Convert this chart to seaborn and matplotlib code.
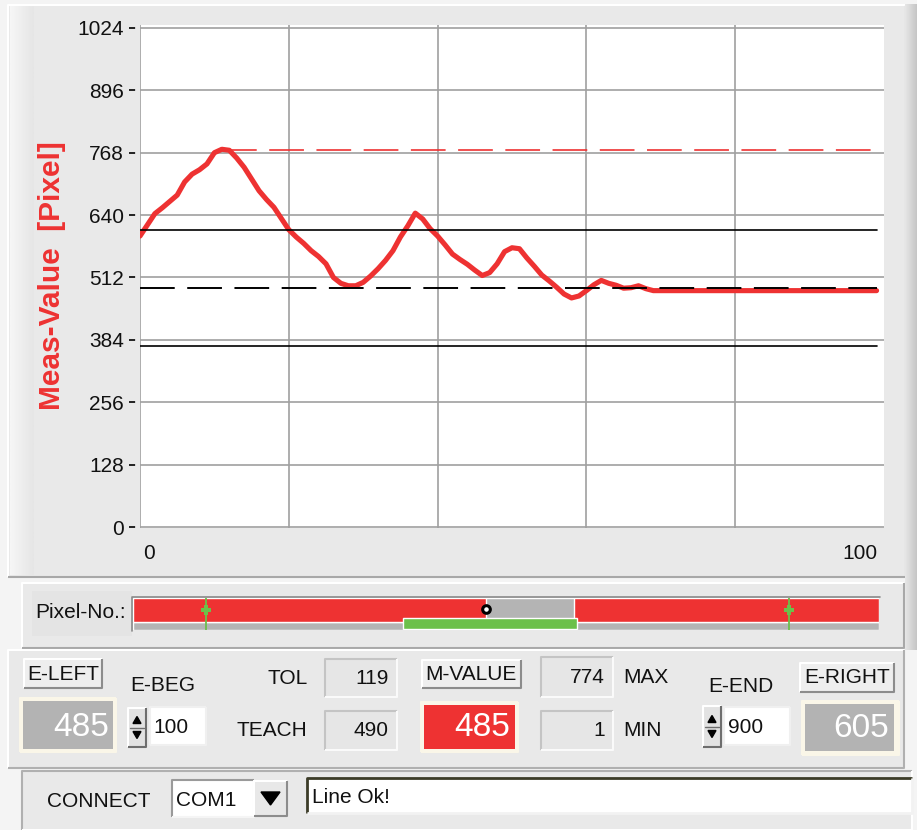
import numpy as np
import matplotlib
matplotlib.use("Agg")
import matplotlib.pyplot as plt
import seaborn as sns
from matplotlib import font_manager
from matplotlib.patches import Rectangle, Polygon
from matplotlib.colors import LinearSegmentedColormap

pixel_no = [0, 1, 2, 3, 4, 5, 6, 7, 8, 9, 10, 11, 12, 13, 14, 15, 16, 17, 18, 19,
            20, 21, 22, 23, 24, 25, 26, 27, 28, 29, 30, 31, 32, 33, 34, 35, 36, 37, 38, 39,
            40, 41, 42, 43, 44, 45, 46, 47, 48, 49, 50, 51, 52, 53, 54, 55, 56, 57, 58, 59,
            60, 61, 62, 63, 64, 65, 66, 67, 68, 69, 99]
meas_value = [597, 620, 643, 655, 668, 681, 708, 724, 733, 745, 768, 775, 773, 757, 738, 714, 690, 672, 656, 633,
              610, 595, 582, 567, 555, 540, 512, 500, 495, 495, 502, 515, 530, 547, 567, 595, 618, 644, 632, 612,
              597, 579, 560, 549, 539, 527, 516, 522, 540, 565, 573, 571, 552, 535, 517, 505, 492, 478, 470, 474,
              485, 497, 506, 500, 496, 490, 491, 495, 489, 485, 485]

# panel values
teach = 490
tol = 119
max_val = 774
min_val = 1
m_value = 485
e_left = 485
e_right = 605
e_beg = 100
e_end = 900
sensor_pixels = 1024

y_ticks = [0, 128, 256, 384, 512, 640, 768, 896, 1024]
x_tick_labels = ["0", "100"]
y_label = "Meas-Value  [Pixel]"
status_text = "Line Ok!"
com_port = "COM1"

RED = "#EE3232"
PANEL = "#E9E9E9"
GRID = "#A0A0A0"
GREEN = "#6CC04A"

sns.set_theme(style="white")
names = {f.name for f in font_manager.fontManager.ttflist}
HAS_NARROW = "Liberation Sans Narrow" in names
NARROW = ["Liberation Sans Narrow", "Liberation Sans", "DejaVu Sans"] if HAS_NARROW else ["Liberation Sans", "DejaVu Sans"]
WIDE = ["Liberation Sans", "DejaVu Sans"]
LBL = 17.5 if HAS_NARROW else 15
TICK = 18 if HAS_NARROW else 15
plt.rcParams["font.family"] = NARROW
plt.rcParams["lines.scale_dashes"] = False

W, H = 917, 830
fig = plt.figure(figsize=(W / 100, H / 100), dpi=100, facecolor="#F4F4F4")
bg = fig.add_axes([0, 0, 1, 1], zorder=0)
bg.set_xlim(0, W)
bg.set_ylim(H, 0)
bg.axis("off")


def frect(x0, y0, x1, y1):
    return [x0 / W, 1 - y1 / H, (x1 - x0) / W, (y1 - y0) / H]


def box(x0, y0, x1, y1, face, tl, br, lw=1.5, z=1):
    bg.add_patch(Rectangle((x0, y0), x1 - x0, y1 - y0, facecolor=face, edgecolor="none", zorder=z))
    bg.plot([x0, x0, x1], [y1, y0, y0], color=tl, lw=lw, zorder=z + 0.1, solid_capstyle="butt")
    bg.plot([x0, x1, x1], [y1, y1, y0], color=br, lw=lw, zorder=z + 0.1, solid_capstyle="butt")


def txt(x, y, s, size=LBL, ha="left", color="#111111", family=None, **kw):
    bg.text(x, y, s, fontsize=size, ha=ha, va="center", color=color,
            family=family or NARROW, zorder=5, **kw)


# panels
box(8, 5, 906, 577, PANEL, "#FFFFFF", "#A8A8A8")
edge_l = LinearSegmentedColormap.from_list("edge_l", ["#F6F6F6", "#E6E6E6"])
grad = np.linspace(0, 1, 20).reshape(1, -1)
bg.imshow(grad, extent=(10, 34, 575, 7), cmap=edge_l, aspect="auto", zorder=1.05)
edge_r = LinearSegmentedColormap.from_list("edge_r", ["#E6E6E6", "#C6C6C6"])
bg.imshow(grad, extent=(905, 917, 650, 5), cmap=edge_r, aspect="auto", zorder=1.2)
box(22, 583, 904, 648, PANEL, "#FFFFFF", "#A8A8A8")
bg.add_patch(Rectangle((32, 591), 100, 45, facecolor="#E4E4E4", edgecolor="none", zorder=1.05))
box(8, 650, 904, 768, PANEL, "#FFFFFF", "#B0B0B0")
box(22, 771, 912, 830, PANEL, "#B0B0B0", "#FFFFFF")

# main plot
ax = fig.add_axes(frect(140, 25, 884, 528), zorder=2)
ax.set_facecolor("white")
sns.lineplot(x=pixel_no, y=meas_value, color=RED, linewidth=3.7, ax=ax, zorder=3,
             solid_joinstyle="round", solid_capstyle="round")
x_first, x_last = pixel_no[0], pixel_no[-1]
ax.plot([x_first, x_last], [teach + tol] * 2, color="black", lw=1.2, zorder=4)
ax.plot([x_first, x_last], [teach - tol] * 2, color="black", lw=1.2, zorder=4)
ax.plot([x_first, x_last], [teach] * 2, color="black", lw=1.4, zorder=4, dashes=(25, 9))
x_peak = pixel_no[int(np.argmax(meas_value))]
ax.plot([x_peak, x_last], [max_val] * 2, color=RED, lw=1.2, zorder=4, dashes=(25, 9))

ax.set_xlim(0, 100)
ax.set_ylim(-2, 1030)
ax.set_xticks([0, 20, 40, 60, 80, 100])
ax.set_xticklabels([])
ax.set_yticks(y_ticks)
ax.set_yticklabels([str(v) for v in y_ticks])
ax.grid(True, color=GRID, lw=1.2)
ax.xaxis.get_gridlines()[-1].set_visible(False)
ax.tick_params(axis="x", length=0, bottom=False)
ax.tick_params(axis="y", left=True, direction="out", length=5, width=1.2, color="black",
               pad=3.5, labelsize=TICK, labelcolor="#111111")
for side in ["top", "right", "bottom"]:
    ax.spines[side].set_visible(False)
ax.spines["left"].set_position(("outward", 3))
ax.spines["left"].set_color(PANEL)
ax.set_xlabel("")
ax.set_ylabel("")

txt(149, 553, x_tick_labels[0], size=TICK, ha="center")
txt(877, 553, x_tick_labels[1], size=TICK, ha="right")
bg.text(52, 276, y_label, rotation=90, fontsize=21.5, fontweight="bold", color=RED,
        family=WIDE, ha="center", va="center", zorder=5)

# pixel bar
txt(35, 612, "Pixel-No.:", size=LBL)
bx = fig.add_axes(frect(133, 598, 879, 630), zorder=2)
bx.barh(0.125, sensor_pixels, height=0.25, left=0, color="#B4B4B4")
bx.barh(0.625, sensor_pixels, height=0.75, left=0, color=RED)
bx.barh(0.625, e_right - e_left, height=0.75, left=e_left, color="#B4B4B4")
bx.barh(0.2, 2 * tol, height=0.34, left=teach - tol, color=GREEN)
for pos in [e_beg, e_end]:
    bx.axvline(pos, color=GREEN, lw=1.3)
    bx.plot(pos, 0.62, marker="P", color=GREEN, ms=7, mew=0)
bx.plot(m_value, 0.66, marker="o", mfc="white", mec="black", ms=5.5, mew=2.2)
bx.set_xlim(0, sensor_pixels)
bx.set_ylim(0, 1)
bx.axis("off")
bg.plot([132, 132, 880], [631, 597, 597], color="#8A8A8A", lw=1.2, zorder=3)

# row 1
box(24, 659, 102, 688, "#EEEEEE", "#FFFFFF", "#8C8C8C")
txt(63, 674, "E-LEFT", ha="center")
txt(130, 685, "E-BEG")
txt(308, 678, "TOL", ha="right")
box(325, 659, 397, 697, "#E6E6E6", "#C4C4C4", "#FAFAFA")
txt(389, 678, str(tol), ha="right")
box(422, 660, 521, 688, "#EEEEEE", "#FFFFFF", "#8C8C8C")
txt(471, 674, "M-VALUE", ha="center")
box(541, 657, 613, 697, "#E6E6E6", "#C4C4C4", "#FAFAFA")
txt(605, 677, str(max_val), ha="right")
txt(623, 677, "MAX")
txt(708, 686, "E-END")
box(800, 663, 894, 692, "#EEEEEE", "#FFFFFF", "#8C8C8C")
txt(847, 677, "E-RIGHT", ha="center")

# row 2
box(20, 698, 116, 752, "#FAF6E8", "#FAF6E8", "#FAF6E8")
bg.add_patch(Rectangle((23, 701), 90, 48, facecolor="#B3B3B3", edgecolor="none", zorder=2))
txt(109, 727, str(e_left), size=24, ha="right", color="white", family=WIDE)


def spinner(x0, y0, x1, y1):
    box(x0, y0, x1, y1, "#E2E2E2", "#FFFFFF", "#6E6E6E")
    ym = (y0 + y1) / 2
    bg.plot([x0 + 2, x1 - 2], [ym, ym], color="#6E6E6E", lw=1, zorder=3)
    xm = (x0 + x1) / 2
    bg.add_patch(Polygon([[xm - 4, ym - 4], [xm + 4, ym - 4], [xm, ym - 11]], color="black", zorder=3))
    bg.add_patch(Polygon([[xm - 4, ym + 4], [xm + 4, ym + 4], [xm, ym + 11]], color="black", zorder=3))


spinner(128, 708, 146, 747)
box(150, 707, 206, 745, "white", "#F0F0F0", "#F0F0F0")
txt(153, 727, str(e_beg))
txt(307, 730, "TEACH", ha="right")
box(325, 711, 397, 750, "#E6E6E6", "#C4C4C4", "#FAFAFA")
txt(389, 730, str(teach), ha="right")
box(421, 702, 518, 752, "#FAF6E8", "#FAF6E8", "#FAF6E8")
bg.add_patch(Rectangle((424, 705), 91, 44, facecolor=RED, edgecolor="none", zorder=2))
txt(510, 727, str(m_value), size=24, ha="right", color="white", family=WIDE)
box(541, 711, 613, 750, "#E6E6E6", "#C4C4C4", "#FAFAFA")
txt(605, 730, str(min_val), ha="right")
txt(623, 730, "MIN")
spinner(703, 706, 721, 747)
box(724, 707, 790, 745, "white", "#F0F0F0", "#F0F0F0")
txt(728, 727, str(e_end))
box(802, 701, 899, 755, "#FAF6E8", "#FAF6E8", "#FAF6E8")
bg.add_patch(Rectangle((805, 704), 89, 47, facecolor="#B3B3B3", edgecolor="none", zorder=2))
txt(889, 728, str(e_right), size=24, ha="right", color="white", family=WIDE)

# connect row
txt(47, 801, "CONNECT")
box(172, 780, 254, 817, "white", "#9A9A9A", "#F5F5F5")
txt(176, 800, com_port)
box(254, 781, 287, 816, "#E8E8E8", "#FFFFFF", "#8C8C8C")
bg.add_patch(Polygon([[261, 792], [280, 792], [270.5, 805]], color="black", zorder=3))
box(307, 778, 912, 813, "white", "#3C3C28", "#F2F2F2", lw=2)
txt(312, 797, status_text)

fig.savefig("out.png", dpi=100, facecolor=fig.get_facecolor())
